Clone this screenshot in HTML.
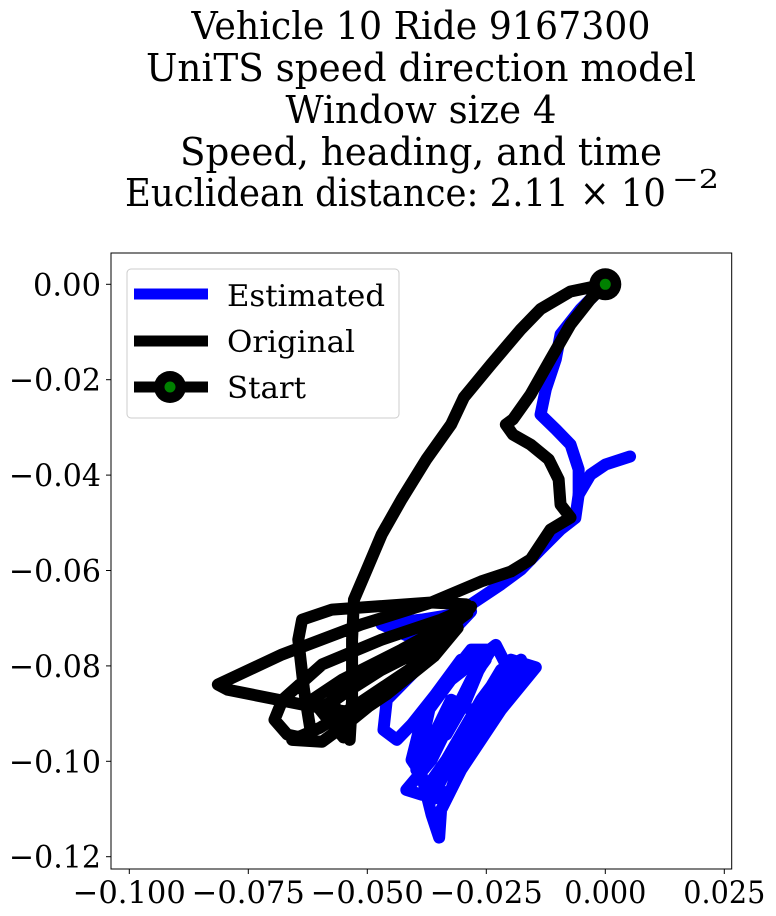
<!DOCTYPE html>
<html><head><meta charset="utf-8"><style>
html,body{margin:0;padding:0;background:#fff;}
svg{display:block;font-family:"DejaVu Serif","Liberation Serif",serif;}
</style></head><body>
<svg id="chart" width="776" height="916" viewBox="0 0 776 916" xmlns="http://www.w3.org/2000/svg">
<g font-size="38" text-anchor="middle" fill="#000">
<text x="421" y="39" textLength="459" lengthAdjust="spacingAndGlyphs">Vehicle 10 Ride 9167300</text>
<text x="421" y="81" textLength="550" lengthAdjust="spacingAndGlyphs">UniTS speed direction model</text>
<text x="421" y="123" textLength="271" lengthAdjust="spacingAndGlyphs">Window size 4</text>
<text x="421" y="165" textLength="482" lengthAdjust="spacingAndGlyphs">Speed, heading, and time</text>
<text x="125" y="206" text-anchor="start" textLength="541" lengthAdjust="spacingAndGlyphs">Euclidean distance: 2.11 × 10</text>
<text x="672" y="188" font-size="26" text-anchor="start" textLength="47" lengthAdjust="spacingAndGlyphs">−2</text>
</g>
<defs><clipPath id="pc"><rect x="111" y="253" width="621" height="616"/></clipPath></defs>
<g id="plot" clip-path="url(#pc)"></g>
<rect x="111" y="253" width="620.7" height="616" fill="none" stroke="#000" stroke-width="1"/>
<g id="xticks"></g>
<g id="yticks"></g>
<g>
<rect x="127" y="269" width="272" height="149" rx="4" fill="#fff" fill-opacity="0.8" stroke="#ccc" stroke-width="1"/>
<line x1="134" y1="294" x2="208" y2="294" stroke="#0000ff" stroke-width="11"/>
<line x1="134" y1="341" x2="208" y2="341" stroke="#000" stroke-width="11"/>
<line x1="134" y1="387" x2="208" y2="387" stroke="#000" stroke-width="11"/>
<circle cx="170" cy="387" r="16" fill="#000"/>
<circle cx="170" cy="387" r="5.5" fill="#008000"/>
<g font-size="30" fill="#000">
<text x="227" y="306" textLength="158" lengthAdjust="spacingAndGlyphs">Estimated</text>
<text x="227" y="352" textLength="128" lengthAdjust="spacingAndGlyphs">Original</text>
<text x="227" y="398" textLength="79" lengthAdjust="spacingAndGlyphs">Start</text>
</g>
</g>
</svg>
<script>
const originalX=[-0.0543,-0.0637,-0.0793,-0.0814,-0.0679,-0.0512,-0.0365,-0.0261,-0.0198,-0.0157,-0.0115,-0.0073,-0.0094,-0.0098,-0.0119,-0.0157,-0.0194,-0.0209,-0.0194,-0.0157,-0.0115,-0.0073,-0.0031,0,-0.0073,-0.0136,-0.0177,-0.024,-0.0297,-0.0324,-0.0376,-0.0428,-0.047,-0.0501,-0.0528,-0.0532,-0.0532,-0.0537,-0.0574,-0.0511,-0.0386,-0.0292,-0.0365,-0.0574,-0.0637,-0.0645,-0.0633,-0.0616,-0.0668,-0.0695,-0.0678,-0.0595,-0.047,-0.0345,-0.0282,-0.0386,-0.0491,-0.0574,-0.0616,-0.0553,-0.0428,-0.0313,-0.0428,-0.0532,-0.0595,-0.0658,-0.060,-0.052,-0.040,-0.031,-0.036,-0.046,-0.055,-0.058,-0.048,-0.036,-0.029,-0.041,-0.052,-0.060,-0.055];
const originalY=[-0.0896,-0.0881,-0.085,-0.0839,-0.0776,-0.0713,-0.0667,-0.0623,-0.0602,-0.0577,-0.0514,-0.0489,-0.0462,-0.0409,-0.0367,-0.0336,-0.0315,-0.0294,-0.0283,-0.0231,-0.0157,-0.0084,-0.0031,0,-0.0015,-0.0052,-0.0094,-0.0168,-0.0237,-0.0294,-0.0367,-0.0451,-0.0525,-0.0598,-0.0661,-0.0745,-0.0871,-0.0955,-0.0871,-0.0829,-0.0766,-0.0671,-0.0667,-0.0682,-0.0703,-0.0745,-0.085,-0.0955,-0.0944,-0.0913,-0.0871,-0.0797,-0.0745,-0.0703,-0.0676,-0.0787,-0.0871,-0.0923,-0.0871,-0.0829,-0.0766,-0.0703,-0.0829,-0.0913,-0.0959,-0.0955,-0.093,-0.088,-0.080,-0.072,-0.078,-0.086,-0.092,-0.088,-0.081,-0.074,-0.069,-0.077,-0.084,-0.089,-0.095];
const estimatedAX=[0.0052,0,-0.0031,-0.0056,-0.0056,-0.0073,-0.0104,-0.0136,-0.0125,-0.0104,-0.0094,-0.0052,0];
const estimatedAY=[-0.0361,-0.0378,-0.0399,-0.0441,-0.0388,-0.0336,-0.0304,-0.0273,-0.022,-0.0157,-0.0105,-0.0052,0];
const estimatedBX=[-0.0056,-0.0063,-0.0094,-0.0136,-0.0177,-0.0219,-0.0282,-0.0355,-0.0397,-0.047,-0.0386,-0.0282,-0.0386,-0.0459,-0.0466,-0.0438,-0.0407,-0.0282,-0.024,-0.0303,-0.0365,-0.0418,-0.0386,-0.0334,-0.0261,-0.0198,-0.0146,-0.0219,-0.0303,-0.0345,-0.0349,-0.0365,-0.0386,-0.0407,-0.0386,-0.0324,-0.023,-0.0209,-0.0282,-0.0324,-0.0365,-0.0282,-0.0219,-0.0177,-0.0261,-0.0313,-0.0282,-0.0198,-0.0157,-0.0240,-0.0324,-0.0365,-0.0397,-0.0345,-0.0282,-0.0251,-0.0303,-0.0365,-0.0386,-0.0334,-0.0292,-0.0261];
const estimatedBY=[-0.0441,-0.049,-0.0514,-0.0556,-0.0598,-0.0629,-0.0671,-0.0713,-0.0745,-0.0713,-0.0703,-0.0686,-0.0797,-0.0871,-0.0934,-0.0955,-0.0923,-0.0766,-0.0766,-0.0871,-0.0997,-0.106,-0.107,-0.0997,-0.0871,-0.0787,-0.0803,-0.0892,-0.1018,-0.1102,-0.116,-0.1112,-0.1028,-0.0997,-0.0913,-0.0829,-0.0756,-0.0797,-0.0934,-0.106,-0.1081,-0.0913,-0.0808,-0.0787,-0.0934,-0.1018,-0.0955,-0.0850,-0.0808,-0.0913,-0.0871,-0.0955,-0.1018,-0.0955,-0.0829,-0.0787,-0.0787,-0.0871,-0.0965,-0.0944,-0.0871,-0.0797];
const startPoint=[0,0];
const xTicks=[-0.1,-0.075,-0.05,-0.025,0,0.025];
const xTickLabels=["−0.100","−0.075","−0.050","−0.025","0.000","0.025"];
const yTicks=[0,-0.02,-0.04,-0.06,-0.08,-0.1,-0.12];
const yTickLabels=["0.00","−0.02","−0.04","−0.06","−0.08","−0.10","−0.12"];

const NS='http://www.w3.org/2000/svg';
function sx(v){return 605.3+v*(119/0.025);}
function sy(v){return 284.3-v*(95.4/0.02);}
function mk(tag,parent){const e=document.createElementNS(NS,tag);parent.appendChild(e);return e;}
const plot=document.getElementById('plot');
function poly(xs,ys,color,name){
  const p=mk('polyline',plot);
  p.setAttribute('points',xs.map((x,i)=>sx(x)+','+sy(ys[i])).join(' '));
  p.setAttribute('fill','none');p.setAttribute('stroke',color);
  p.setAttribute('stroke-width','12');p.setAttribute('stroke-linejoin','round');p.setAttribute('stroke-linecap','round');
  
  
}
poly(estimatedAX,estimatedAY,'#0000ff','estimated-path-branch');
poly(estimatedBX,estimatedBY,'#0000ff','estimated-path');
poly(originalX,originalY,'#000','original-path');
const c1=mk('circle',plot);c1.setAttribute('cx',sx(startPoint[0]));c1.setAttribute('cy',sy(startPoint[1]));c1.setAttribute('r','16');c1.setAttribute('fill','#000');


const c2=mk('circle',plot);c2.setAttribute('cx',sx(startPoint[0]));c2.setAttribute('cy',sy(startPoint[1]));c2.setAttribute('r','5.5');c2.setAttribute('fill','#008000');



const xg=document.getElementById('xticks');
xTicks.forEach((v,i)=>{
  const l=mk('line',xg);l.setAttribute('x1',sx(v));l.setAttribute('x2',sx(v));l.setAttribute('y1',869);l.setAttribute('y2',874);l.setAttribute('stroke','#000');
  
  
  const t=mk('text',xg);t.setAttribute('x',sx(v));t.setAttribute('y',903);t.setAttribute('font-size','31');t.setAttribute('text-anchor','middle');
  const w=xTickLabels[i].length>5?113:82;
  t.setAttribute('textLength',w);t.setAttribute('lengthAdjust','spacingAndGlyphs');
  t.textContent=xTickLabels[i];
  
  
});
const yg=document.getElementById('yticks');
yTicks.forEach((v,i)=>{
  const l=mk('line',yg);l.setAttribute('x1',106);l.setAttribute('x2',111);l.setAttribute('y1',sy(v));l.setAttribute('y2',sy(v));l.setAttribute('stroke','#000');
  
  
  const t=mk('text',yg);t.setAttribute('x',101);t.setAttribute('y',sy(v)+11);t.setAttribute('font-size','31');t.setAttribute('text-anchor','end');
  const w=yTickLabels[i].length>4?92:68;
  t.setAttribute('textLength',w);t.setAttribute('lengthAdjust','spacingAndGlyphs');
  t.textContent=yTickLabels[i];
  
  
});
</script>
</body></html>
